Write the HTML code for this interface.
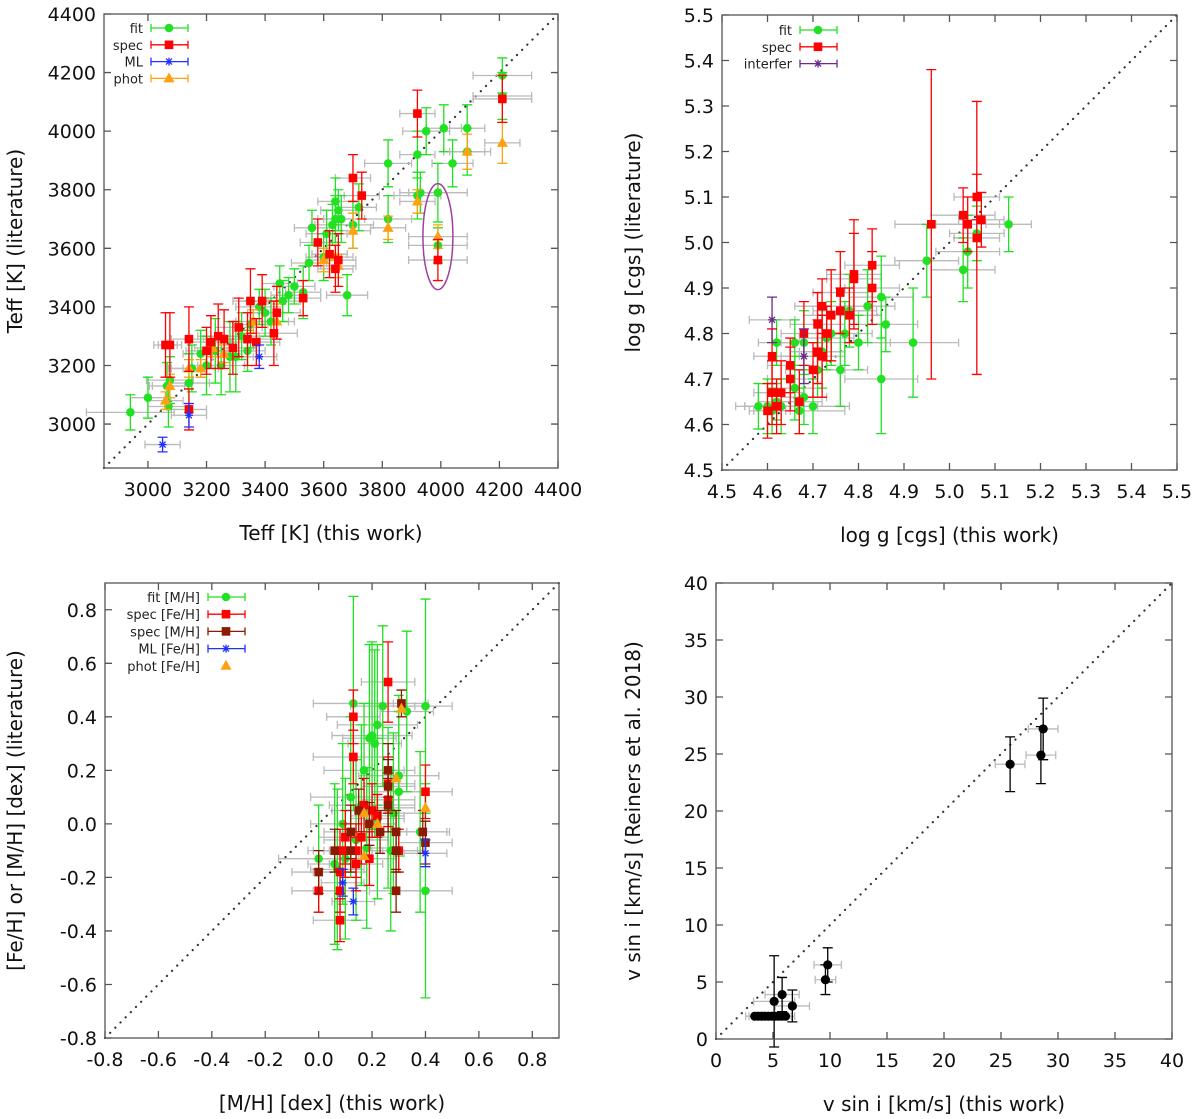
<!DOCTYPE html>
<html><head><meta charset="utf-8">
<style>
html,body{margin:0;padding:0;background:#fff;}
svg{display:block;font-family:"DejaVu Sans","Liberation Sans",sans-serif;}
</style></head>
<body>
<svg id="chart" width="1200" height="1119" viewBox="0 0 1200 1119" xmlns="http://www.w3.org/2000/svg"></svg>
<script>
// ---------- Panel 1: Teff ----------
const teffTicks = [3000,3200,3400,3600,3800,4000,4200,4400];
const teffFit = [[2940,3040,150,60],[3000,3090,60,70],[3065,3130,60,80],[3070,3060,70,70],[3075,3150,80,80],[3140,3140,70,100],[3150,3190,80,80],[3180,3240,60,80],[3200,3200,60,100],[3230,3250,60,110],[3250,3200,80,100],[3280,3230,80,120],[3300,3230,80,120],[3320,3300,60,80],[3340,3250,60,70],[3350,3340,60,80],[3380,3400,80,60],[3400,3380,60,80],[3420,3350,60,80],[3450,3480,60,60],[3460,3420,60,70],[3480,3440,60,60],[3500,3470,70,60],[3530,3450,60,90],[3550,3550,60,60],[3560,3670,60,60],[3600,3570,60,80],[3610,3650,70,80],[3620,3580,60,80],[3630,3680,60,70],[3640,3700,60,80],[3640,3760,60,80],[3650,3730,60,70],[3660,3700,60,80],[3680,3440,70,70],[3700,3680,70,80],[3720,3740,60,80],[3820,3700,80,80],[3820,3890,80,80],[3920,3780,80,80],[3920,3920,60,80],[3930,3790,70,70],[3950,4000,80,80],[3990,3790,100,100],[3990,3610,100,60],[4010,4010,60,80],[4040,3890,70,80],[4090,4010,60,80],[4090,3930,80,80],[4210,4190,100,60],[4210,4120,100,80]];
const teffSpec = [[3060,3270,40,110],[3075,3270,40,110],[3140,3050,60,70],[3140,3290,60,110],[3200,3250,70,80],[3215,3280,70,90],[3240,3300,70,110],[3260,3290,70,100],[3290,3260,70,90],[3310,3330,80,100],[3340,3290,80,90],[3350,3420,60,110],[3370,3280,80,80],[3390,3420,80,90],[3430,3310,80,110],[3440,3380,80,90],[3530,3430,60,60],[3580,3620,60,80],[3640,3530,60,80],[3700,3840,60,80],[3730,3780,60,80],[3920,4060,60,80],[3990,3560,100,70],[4210,4110,100,80],[3650,3560,60,90],[3620,3580,60,80]];
const teffML = [[3050,2930,60,25],[3140,3030,60,40],[3380,3230,60,40]];
const teffPhot = [[3060,3080,60,30],[3075,3130,60,40],[3140,3190,60,30],[3180,3190,60,30],[3220,3260,60,30],[3260,3240,60,30],[3360,3350,60,40],[3440,3350,60,60],[3600,3560,60,40],[3650,3540,60,40],[3700,3660,60,60],[3820,3670,60,40],[3920,3760,60,40],[3990,3640,100,40],[4090,3930,60,60],[4210,3960,60,70],[3640,3570,60,40]];
// ---------- Panel 2: log g ----------
const loggTicks = [4.5,4.6,4.7,4.8,4.9,5.0,5.1,5.2,5.3,5.4,5.5];
const loggFit = [[4.58,4.64,.05,.05],[4.6,4.64,.05,.06],[4.61,4.63,.04,.05],[4.62,4.65,.04,.04],[4.63,4.64,.08,.06],[4.66,4.78,.05,.05],[4.67,4.63,.1,.05],[4.68,4.66,.05,.06],[4.7,4.64,.08,.06],[4.68,4.78,.05,.07],[4.72,4.76,.05,.08],[4.73,4.79,.06,.07],[4.74,4.8,.06,.07],[4.76,4.72,.06,.08],[4.77,4.8,.06,.07],[4.78,4.85,.06,.08],[4.8,4.78,.07,.06],[4.82,4.86,.06,.08],[4.85,4.88,.07,.09],[4.85,4.7,.08,.12],[4.86,4.82,.07,.06],[4.92,4.78,.1,.12],[4.95,4.96,.07,.08],[5.03,4.94,.07,.07],[5.04,4.98,.07,.08],[5.06,5.02,.06,.06],[5.13,5.04,.05,.06],[4.62,4.78,.04,.05],[4.66,4.68,.06,.07],[4.71,4.72,.06,.06]];
const loggSpec = [[4.6,4.63,.04,.06],[4.61,4.67,.04,.07],[4.61,4.75,.04,.06],[4.62,4.64,.04,.06],[4.63,4.67,.05,.07],[4.65,4.7,.05,.07],[4.65,4.73,.05,.06],[4.67,4.65,.05,.07],[4.68,4.8,.05,.07],[4.7,4.72,.06,.06],[4.71,4.76,.06,.07],[4.71,4.82,.06,.07],[4.72,4.75,.05,.09],[4.73,4.8,.05,.06],[4.74,4.84,.06,.1],[4.72,4.86,.06,.06],[4.76,4.89,.06,.09],[4.79,4.92,.06,.1],[4.79,4.93,.06,.12],[4.78,4.84,.07,.06],[4.83,4.95,.06,.08],[4.83,4.9,.06,.08],[4.96,5.04,.08,.34],[5.03,5.06,.07,.06],[5.04,5.04,.07,.06],[5.06,5.1,.05,.05],[5.06,5.01,.05,.3],[5.07,5.05,.05,.06],[4.76,4.85,.06,.05]];
const loggInt = [[4.61,4.83,.05,.05],[4.68,4.75,.05,.06]];
// ---------- Panel 3: metallicity ----------
const mhTicks = [-0.8,-0.6,-0.4,-0.2,0.0,0.2,0.4,0.6,0.8];
const mhFit = [[0.13,0.45,.15,.4],[0.2,0.33,.15,.35],[0.22,0.37,.15,.3],[0.24,0.44,.12,.3],[0.17,0.2,.15,.25],[0.09,0.0,.12,.3],[0.12,0.1,.15,.3],[0.3,0.18,.15,.3],[0.28,0.04,.12,.3],[0.4,0.44,.1,.4],[0.4,-0.25,.1,.4],[0.38,-0.03,.1,.3],[0.07,-0.17,.1,.3],[0.1,-0.13,.1,.3],[0.21,0.3,.1,.35],[0.19,0.32,.1,.35],[0.22,0.02,.1,.3],[0.27,-0.1,.1,.3],[0.0,-0.13,.15,.2],[0.16,0.07,.12,.3],[0.14,-0.06,.12,.3],[0.33,0.42,.1,.3],[0.26,0.06,.1,.3],[0.18,-0.09,.12,.3],[0.3,0.12,.1,.3],[0.06,-0.15,.1,.3]];
const mhSpecFe = [[0.13,0.25,.15,.1],[0.13,0.4,.1,.1],[0.26,0.53,.1,.15],[0.0,-0.25,.1,.08],[0.08,-0.25,.1,.08],[0.08,-0.36,.1,.08],[0.08,-0.18,.1,.08],[0.08,-0.1,.1,.08],[0.1,-0.1,.1,.1],[0.14,-0.1,.1,.1],[0.14,-0.15,.1,.1],[0.16,-0.05,.1,.1],[0.19,-0.13,.1,.1],[0.2,0.05,.1,.1],[0.22,0.03,.1,.08],[0.26,0.15,.1,.1],[0.26,0.09,.1,.1],[0.4,0.12,.1,.1],[0.3,-0.1,.1,.08],[0.1,-0.05,.1,.1],[0.17,0.07,.1,.1]];
const mhSpecM = [[0.31,0.45,.1,.05],[0.0,-0.18,.1,.08],[0.12,-0.03,.1,.1],[0.19,0.0,.1,.08],[0.23,-0.03,.1,.08],[0.26,0.2,.1,.1],[0.26,0.14,.1,.1],[0.26,0.07,.1,.1],[0.29,-0.03,.1,.08],[0.29,-0.1,.1,.08],[0.29,-0.25,.1,.08],[0.4,-0.07,.1,.08],[0.39,-0.03,.1,.08],[0.12,-0.1,.1,.08],[0.15,0.05,.1,.08],[0.06,-0.1,.1,.08]];
const mhML = [[0.09,-0.22,.08,.05],[0.13,-0.29,.08,.05],[0.4,-0.11,.08,.05]];
const mhPhot = [[0.31,0.43,0,0],[0.17,-0.12,0,0],[0.17,0.04,0,0],[0.29,0.17,0,0],[0.4,0.06,0,0],[0.22,0.0,0,0]];
// ---------- Panel 4: v sin i ----------
const vTicks = [0,5,10,15,20,25,30,35,40];
const vPts = [[3.4,2,0.8,0],[3.7,2,0.8,0],[4.0,2,0.8,0],[4.3,2,0.8,0],[4.6,2,0.8,0],[4.9,2,0.8,0],[5.2,2,0.8,0],[5.5,2,0.8,0],[5.8,2,0.8,0],[6.1,2,0.8,0],[5.1,3.3,1.8,4],[5.8,3.9,1.5,1.5],[6.7,2.9,1.5,1.4],[9.6,5.2,0.9,1.3],[9.8,6.5,1.2,1.5],[25.8,24.1,1.3,2.4],[28.5,24.9,1.3,2.5],[28.7,27.2,1.3,2.7]];

const svg = document.getElementById('chart');
const NS = 'http://www.w3.org/2000/svg';
function mk(tag, attrs, parent){const e=document.createElementNS(NS,tag);for(const k in attrs)e.setAttribute(k,attrs[k]);(parent||svg).appendChild(e);return e;}

function panel(cfg){
  const g = mk('g',{});
  
  
  const L=cfg.L,T=cfg.T,W=cfg.W,H=cfg.H;
  const sx = v => L + (v-cfg.min)/(cfg.max-cfg.min)*W;
  const sy = v => T + H - (v-cfg.min)/(cfg.max-cfg.min)*H;
  const dg = mk('line',{x1:sx(cfg.min),y1:sy(cfg.min),x2:sx(cfg.max),y2:sy(cfg.max),stroke:'#333','stroke-width':2.2,'stroke-dasharray':'0.1 7.2','stroke-linecap':'round'},g);
  
  
  cfg.series.forEach(s=>{
    s.data.forEach(d=>{
      if(d[2]>0){
        const y=sy(d[1]),x1=sx(d[0]-d[2]),x2=sx(d[0]+d[2]);
        mk('path',{d:`M${x1},${y}H${x2}M${x1},${y-4}V${y+4}M${x2},${y-4}V${y+4}`,stroke:'#bbb','stroke-width':1.3,fill:'none'},g);
      }
    });
  });
  cfg.series.forEach(s=>{
    const sg = mk('g',{},g);
    
    
    s.data.forEach(d=>{
      const x=sx(d[0]),y=sy(d[1]);
      if(d[3]>0){
        const y1=sy(d[1]-d[3]),y2=sy(d[1]+d[3]);
        mk('path',{d:`M${x},${y1}V${y2}M${x-5},${y1}H${x+5}M${x-5},${y2}H${x+5}`,stroke:s.color,'stroke-width':1.3,fill:'none'},sg);
      }
      marker(sg,s.shape,x,y,s.color);
    });
  });
  mk('rect',{x:L,y:T,width:W,height:H,fill:'none',stroke:'#555','stroke-width':1.3},g);
  cfg.ticks.forEach(t=>{
    const x=sx(t),y=sy(t);
    mk('path',{d:`M${x},${T+H}v-7M${x},${T}v7M${L},${y}h7M${L+W},${y}h-7`,stroke:'#555','stroke-width':1.3},g);
    const tx=mk('text',{x:x,y:T+H+28,'text-anchor':'middle','font-size':19,fill:'#111'},g);
    tx.textContent=cfg.fmt(t);
    
    
    const ty=mk('text',{x:L-8,y:y+7,'text-anchor':'end','font-size':19,fill:'#111'},g);
    ty.textContent=cfg.fmt(t);
    
    
  });
  const xt=mk('text',{x:L+W/2,y:T+H+72,'text-anchor':'middle','font-size':20,fill:'#111'},g);
  xt.textContent=cfg.xlabel;
  
  
  const yx=cfg.yx, yc=T+H/2;
  const yt=mk('text',{x:yx,y:yc,'text-anchor':'middle','font-size':20,fill:'#111',transform:`rotate(-90 ${yx} ${yc})`},g);
  yt.textContent=cfg.ylabel;
  
  
  cfg.legend.forEach((s,i)=>{
    const lg=mk('g',{},g);
    
    
    const ly=cfg.legY+i*cfg.legDy, lx=cfg.legX;
    const t=mk('text',{x:lx-8,y:ly+5,'text-anchor':'end','font-size':13,fill:'#222'},lg);
    t.textContent=s.label;
    if(s.bar!==false) mk('path',{d:`M${lx},${ly}H${lx+37}M${lx},${ly-4}V${ly+4}M${lx+37},${ly-4}V${ly+4}`,stroke:s.color,'stroke-width':1.3,fill:'none'},lg);
    marker(lg,s.shape,lx+18,ly,s.color);
  });
  return {sx,sy,g};
}
function marker(p,shape,x,y,c){
  if(shape==='circle') mk('circle',{cx:x,cy:y,r:4.3,fill:c},p);
  else if(shape==='square') mk('rect',{x:x-4.3,y:y-4.3,width:8.6,height:8.6,fill:c},p);
  else if(shape==='tri') mk('path',{d:`M${x},${y-6}L${x+5.5},${y+4}L${x-5.5},${y+4}Z`,fill:c},p);
  else if(shape==='star') mk('path',{d:`M${x-4},${y}H${x+4}M${x},${y-4}V${y+4}M${x-3},${y-3}L${x+3},${y+3}M${x-3},${y+3}L${x+3},${y-3}`,stroke:c,'stroke-width':1.3},p);
  else if(shape==='bigdot') mk('circle',{cx:x,cy:y,r:4.6,fill:c},p);
}
const G='#22e022',R='#ff0000',B='#2030ff',O='#ffa010',BR='#8b1a00',P='#6a2a8a';

const s1=[{key:'fit',label:'fit',data:teffFit,color:G,shape:'circle'},{key:'spec',label:'spec',data:teffSpec,color:R,shape:'square'},{key:'ml',label:'ML',data:teffML,color:B,shape:'star'},{key:'phot',label:'phot',data:teffPhot,color:O,shape:'tri'}];
const p1=panel({name:'teff-panel',L:104,T:14,W:454,H:454,min:2850,max:4400,ticks:teffTicks,fmt:v=>String(v),
  xlabel:'Teff [K] (this work)',ylabel:'Teff [K] (literature)',yx:22,series:[s1[0],s1[3],s1[1],s1[2]],legend:s1,legX:151,legY:28,legDy:16.8});
const ell=mk('ellipse',{cx:p1.sx(3990),cy:p1.sy(3640),rx:15,ry:53,fill:'none',stroke:'#a040a0','stroke-width':1.5},p1.g);



const s2=[{key:'fit',label:'fit',data:loggFit,color:G,shape:'circle'},{key:'spec',label:'spec',data:loggSpec,color:R,shape:'square'},{key:'interfer',label:'interfer',data:loggInt,color:P,shape:'star'}];
panel({name:'logg-panel',L:722,T:15,W:455,H:455,min:4.5,max:5.5,ticks:loggTicks,fmt:v=>v.toFixed(1),
  xlabel:'log g [cgs] (this work)',ylabel:'log g [cgs] (literature)',yx:640,series:s2,legend:s2,legX:800,legY:30,legDy:16.8});

const s3=[{key:'fit-mh',label:'fit [M/H]',data:mhFit,color:G,shape:'circle'},{key:'spec-feh',label:'spec [Fe/H]',data:mhSpecFe,color:R,shape:'square'},{key:'spec-mh',label:'spec [M/H]',data:mhSpecM,color:BR,shape:'square'},{key:'ml-feh',label:'ML [Fe/H]',data:mhML,color:B,shape:'star'},{key:'phot-feh',label:'phot [Fe/H]',data:mhPhot,color:O,shape:'tri',bar:false}];
panel({name:'metallicity-panel',L:105,T:583,W:454,H:455,min:-0.8,max:0.9,ticks:mhTicks,fmt:v=>v.toFixed(1),
  xlabel:'[M/H] [dex] (this work)',ylabel:'[Fe/H] or [M/H] [dex] (literature)',yx:22,series:s3,legend:s3,legX:208,legY:597,legDy:17.2});

const s4=[{key:'vsini',label:'',data:vPts,color:'#000',shape:'bigdot'}];
panel({name:'vsini-panel',L:716,T:583,W:456,H:456,min:0,max:40,ticks:vTicks,fmt:v=>String(v),
  xlabel:'v sin i [km/s] (this work)',ylabel:'v sin i [km/s] (Reiners et al. 2018)',yx:640,series:s4,legend:[],legX:0,legY:0,legDy:0});
</script>
</body></html>
